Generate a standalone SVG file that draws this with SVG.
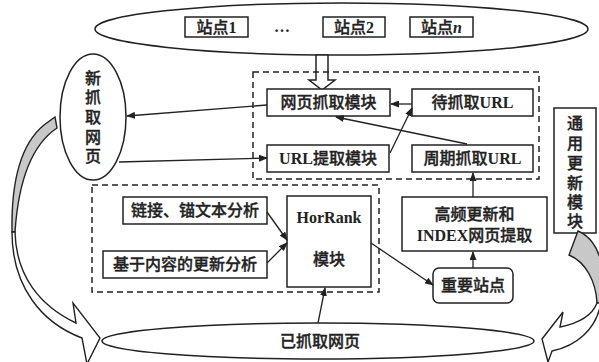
<svg xmlns="http://www.w3.org/2000/svg" width="599" height="362" viewBox="0 0 599 362">
  <style>
    .box { fill: #fff; stroke: #222; stroke-width: 1.5; }
    .dash { fill: none; stroke: #222; stroke-width: 1.5; stroke-dasharray: 6 4; }
    .ell { fill: #fff; stroke: #222; stroke-width: 1.5; }
    .ln { fill: none; stroke: #222; stroke-width: 1.3; marker-end: url(#ah); }
    .t { font-family: "Liberation Serif", "Noto Sans CJK SC", serif; font-size: 16px; font-weight: 500; fill: #222; stroke: #222; stroke-width: 0.35; text-anchor: middle; }
    .b { font-weight: bold; stroke-width: 0; }
    .swoosh { stroke: #222; stroke-width: 1.4; stroke-linejoin: miter; }
  </style>
  <defs>
    <marker id="ah" markerUnits="userSpaceOnUse" markerWidth="9" markerHeight="7" refX="8" refY="3.5" orient="auto">
      <path d="M0,0 L9,3.5 L0,7 Z" fill="#222"/>
    </marker>
  </defs>
  <rect width="599" height="362" fill="#fff"/>

  <!-- site pool -->
  <g id="sites">
    <ellipse class="ell" cx="341.5" cy="29" rx="246.5" ry="26"/>
    <rect class="box" x="185" y="17" width="63" height="20"/>
    <text class="t" x="216.5" y="33">站点<tspan class="b">1</tspan></text>
    <text class="t b" x="282" y="32" font-size="19" stroke="#222" stroke-width="0.6">…</text>
    <rect class="box" x="323" y="17" width="62" height="20"/>
    <text class="t" x="354" y="33">站点<tspan class="b">2</tspan></text>
    <rect class="box" x="410" y="17" width="63" height="20"/>
    <text class="t" x="441.5" y="33">站点<tspan class="b" font-style="italic">n</tspan></text>
  </g>

  <!-- hollow block arrow into the crawler -->
  <g id="feed">
    <path class="box" d="M316,55 L328,55 L328,80 L335,80 L322,90 L309,80 L316,80 Z"/>
  </g>

  <!-- crawler group -->
  <g id="crawler-frame">
    <rect class="dash" x="253" y="72" width="286" height="107"/>
  </g>
  <g id="fetch">
    <rect class="box" x="267" y="89" width="123" height="27"/>
    <text class="t" x="328.5" y="108">网页抓取模块</text>
  </g>
  <g id="pending">
    <rect class="box" x="412" y="89" width="121" height="27"/>
    <text class="t" x="472.5" y="108">待抓取<tspan class="b">URL</tspan></text>
  </g>
  <g id="extract">
    <rect class="box" x="267" y="145" width="122" height="27"/>
    <text class="t" x="328" y="164"><tspan class="b">URL</tspan>提取模块</text>
  </g>
  <g id="periodic">
    <rect class="box" x="412" y="145" width="121" height="27"/>
    <text class="t" x="472.5" y="164">周期抓取<tspan class="b">URL</tspan></text>
  </g>

  <!-- newly fetched pages -->
  <g id="new-pages">
    <ellipse class="ell" cx="93" cy="117" rx="33" ry="63"/>
    <text class="t" x="93" y="84">新</text>
    <text class="t" x="93" y="103">抓</text>
    <text class="t" x="93" y="123">取</text>
    <text class="t" x="93" y="143">网</text>
    <text class="t" x="93" y="162">页</text>
  </g>

  <!-- analysis group -->
  <g id="analysis-frame">
    <rect class="dash" x="92" y="185" width="287" height="107"/>
  </g>
  <g id="link-anchor">
    <rect class="box" x="123" y="197" width="144" height="27"/>
    <text class="t" x="195" y="216">链接、锚文本分析</text>
  </g>
  <g id="content-update">
    <rect class="box" x="103" y="251" width="164" height="27"/>
    <text class="t" x="185" y="270">基于内容的更新分析</text>
  </g>
  <g id="horrank">
    <rect class="box" x="287" y="196" width="84" height="91"/>
    <text class="t b" x="329" y="223">HorRank</text>
    <text class="t" x="329" y="265">模块</text>
  </g>

  <g id="hf-index">
    <rect class="box" x="402" y="197" width="145" height="54"/>
    <text class="t" x="474.5" y="220">高频更新和</text>
    <text class="t" x="474.5" y="241"><tspan class="b">INDEX</tspan>网页提取</text>
  </g>
  <g id="key-sites">
    <rect class="box" x="433" y="268" width="80" height="35" rx="6"/>
    <text class="t" x="473" y="291">重要站点</text>
  </g>

  <g id="general-update">
    <rect class="box" x="554" y="108" width="42" height="125"/>
    <text class="t" x="575" y="129">通</text>
    <text class="t" x="575" y="149">用</text>
    <text class="t" x="575" y="169">更</text>
    <text class="t" x="575" y="189">新</text>
    <text class="t" x="575" y="208">模</text>
    <text class="t" x="575" y="227">块</text>
  </g>

  <!-- fetched pages -->
  <g id="fetched-pages">
    <ellipse class="ell" cx="318" cy="341" rx="216" ry="18"/>
    <text class="t" x="320" y="347">已抓取网页</text>
  </g>

  <!-- curved return arrows -->
  <g id="swoosh-left">
    <path class="swoosh" fill="#c8c8c8" d="M44,125 L55,117 L57,128 C36,142 19,172 15,232 L12,232 C11,178 22,143 44,125 Z"/>
    <path class="swoosh" fill="#fff" d="M15,232 C16,276 40,306 76,323 L73,303 L100,338 L87,364 L82,338 C42,323 12,287 12,232 Z"/>
  </g>
  <g id="swoosh-right">
    <path class="swoosh" fill="#c8c8c8" d="M578,231 C590,236 598,248 601,262 L601,303 L597,303 C596,282 586,262 569,255 C572,247 575,239 578,231 Z"/>
    <path class="swoosh" fill="#fff" d="M597,303 C592,316 580,323 560,327 L563,312 L542,339 L548,362 L552,351 C576,346 596,330 601,303 Z"/>
  </g>

  <!-- connectors -->
  <g id="connectors">
    <path class="ln" d="M412,104 L391,104"/>
    <path class="ln" d="M390,153 L412,108"/>
    <path class="ln" d="M467,144 L336,117"/>
    <path class="ln" d="M267,105 L127,116"/>
    <path class="ln" d="M119,162 L267,158"/>
    <path class="ln" d="M267,212 L287,240"/>
    <path class="ln" d="M267,263 L287,243"/>
    <path class="ln" d="M371,243 L433,285"/>
    <path class="ln" d="M473,268 L473,252"/>
    <path class="ln" d="M473,197 L473,173"/>
    <path class="ln" d="M318,323 L325,288"/>
  </g>
</svg>
